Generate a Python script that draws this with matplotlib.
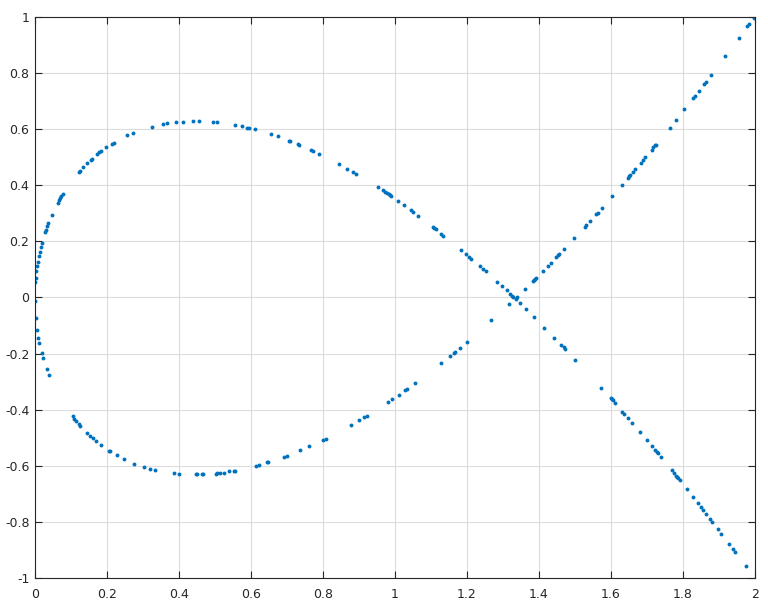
import matplotlib.pyplot as plt
from matplotlib.ticker import FuncFormatter, MultipleLocator

# points, upper arc + falling line
x_upper = [0.001, 0.002, 0.004, 0.006, 0.007, 0.011, 0.014, 0.017, 0.019, 0.029, 0.031, 0.033, 0.037, 0.046,
           0.063, 0.067, 0.069, 0.072, 0.077, 0.122, 0.125, 0.133, 0.145, 0.155, 0.158, 0.173, 0.179, 0.184,
           0.197, 0.213, 0.219, 0.256, 0.271, 0.324, 0.355, 0.368, 0.391, 0.410, 0.440, 0.455, 0.494, 0.506,
           0.555, 0.576, 0.588, 0.595, 0.611, 0.656, 0.675, 0.706, 0.707, 0.730, 0.733, 0.768, 0.771, 0.789,
           0.844, 0.867, 0.884, 0.892, 0.952, 0.966, 0.973, 0.978, 0.982, 0.986, 0.990, 1.009, 1.026, 1.044,
           1.051, 1.065, 1.105, 1.108, 1.115, 1.129, 1.134, 1.184, 1.196, 1.206, 1.212, 1.237, 1.244, 1.252,
           1.284, 1.297, 1.310, 1.319, 1.325, 1.328, 1.335, 1.346, 1.364, 1.386, 1.415, 1.443, 1.461, 1.469,
           1.472, 1.501, 1.573, 1.599, 1.602, 1.606, 1.612, 1.631, 1.636, 1.647, 1.658, 1.680, 1.699, 1.714,
           1.722, 1.727, 1.730, 1.739, 1.769, 1.775, 1.781, 1.784, 1.787, 1.791, 1.810, 1.827, 1.841, 1.849,
           1.856, 1.864, 1.874, 1.881, 1.896, 1.906, 1.928, 1.938, 1.945, 1.974]
y_upper = [0.054, 0.068, 0.094, 0.112, 0.125, 0.147, 0.162, 0.180, 0.194, 0.233, 0.241, 0.256, 0.266, 0.294,
           0.338, 0.349, 0.356, 0.363, 0.369, 0.449, 0.451, 0.464, 0.480, 0.490, 0.495, 0.512, 0.519, 0.522,
           0.536, 0.547, 0.552, 0.578, 0.586, 0.609, 0.618, 0.621, 0.625, 0.627, 0.628, 0.628, 0.625, 0.624,
           0.614, 0.611, 0.606, 0.603, 0.599, 0.582, 0.574, 0.559, 0.558, 0.546, 0.544, 0.525, 0.523, 0.512,
           0.476, 0.459, 0.446, 0.440, 0.393, 0.382, 0.376, 0.373, 0.368, 0.364, 0.361, 0.344, 0.328, 0.313,
           0.305, 0.292, 0.252, 0.249, 0.243, 0.228, 0.221, 0.169, 0.156, 0.144, 0.139, 0.112, 0.103, 0.093,
           0.056, 0.042, 0.025, 0.011, 0.006, 0.002, -0.006, -0.020, -0.042, -0.070, -0.107, -0.143, -0.169, -0.178,
           -0.183, -0.223, -0.321, -0.358, -0.362, -0.367, -0.377, -0.408, -0.414, -0.431, -0.446, -0.478, -0.508, -0.531,
           -0.543, -0.550, -0.555, -0.569, -0.616, -0.626, -0.636, -0.641, -0.645, -0.652, -0.683, -0.711, -0.734, -0.746,
           -0.758, -0.772, -0.788, -0.801, -0.824, -0.842, -0.878, -0.897, -0.909, -0.957]

# lower arc + rising line
x_lower = [0.000, 0.002, 0.006, 0.009, 0.012, 0.019, 0.023, 0.033, 0.040, 0.105, 0.109, 0.113, 0.122, 0.126,
           0.145, 0.153, 0.161, 0.170, 0.184, 0.206, 0.209, 0.228, 0.247, 0.275, 0.303, 0.319, 0.333, 0.386,
           0.401, 0.448, 0.451, 0.463, 0.468, 0.502, 0.506, 0.514, 0.526, 0.540, 0.552, 0.556, 0.613, 0.622,
           0.644, 0.648, 0.692, 0.699, 0.737, 0.762, 0.801, 0.808, 0.878, 0.901, 0.913, 0.921, 0.981, 0.993,
           1.010, 1.029, 1.032, 1.056, 1.127, 1.153, 1.163, 1.166, 1.181, 1.200, 1.268, 1.317, 1.339, 1.361,
           1.382, 1.386, 1.388, 1.393, 1.411, 1.424, 1.432, 1.446, 1.454, 1.456, 1.470, 1.497, 1.527, 1.531,
           1.542, 1.559, 1.563, 1.575, 1.603, 1.631, 1.647, 1.650, 1.654, 1.660, 1.668, 1.682, 1.690, 1.695,
           1.713, 1.718, 1.722, 1.725, 1.763, 1.781, 1.804, 1.829, 1.834, 1.844, 1.859, 1.865, 1.878, 1.918,
           1.955, 1.979, 1.984, 1.997]
y_lower = [-0.013, -0.072, -0.116, -0.146, -0.161, -0.198, -0.216, -0.256, -0.278, -0.423, -0.432, -0.439, -0.452, -0.458,
           -0.484, -0.492, -0.501, -0.511, -0.526, -0.546, -0.549, -0.562, -0.575, -0.592, -0.605, -0.611, -0.616, -0.626,
           -0.628, -0.631, -0.631, -0.630, -0.630, -0.628, -0.626, -0.625, -0.624, -0.620, -0.618, -0.617, -0.600, -0.597,
           -0.588, -0.587, -0.568, -0.565, -0.544, -0.530, -0.507, -0.503, -0.454, -0.437, -0.427, -0.421, -0.372, -0.361,
           -0.346, -0.329, -0.326, -0.304, -0.232, -0.208, -0.198, -0.195, -0.180, -0.158, -0.081, -0.023, 0.002, 0.031,
           0.058, 0.063, 0.065, 0.070, 0.095, 0.113, 0.124, 0.143, 0.152, 0.155, 0.173, 0.211, 0.251, 0.257,
           0.273, 0.298, 0.302, 0.320, 0.361, 0.402, 0.426, 0.432, 0.436, 0.446, 0.458, 0.480, 0.490, 0.500,
           0.526, 0.536, 0.543, 0.545, 0.606, 0.633, 0.671, 0.711, 0.719, 0.737, 0.762, 0.770, 0.793, 0.861,
           0.924, 0.967, 0.975, 0.996]

plt.rcParams['axes.unicode_minus'] = False
plt.rcParams['font.family'] = 'DejaVu Sans'

fig = plt.figure(figsize=(7.68, 6.04), dpi=100)
ax = fig.add_axes([35/768, 26/604, 720/768, 561/604])

blue = '#0072BD'
ax.plot(x_upper, y_upper, 'o', color=blue, markersize=2.8, markeredgewidth=0)
ax.plot(x_lower, y_lower, 'o', color=blue, markersize=2.8, markeredgewidth=0)

ax.set_xlim(0, 2)
ax.set_ylim(-1, 1)
ax.xaxis.set_major_locator(MultipleLocator(0.2))
ax.yaxis.set_major_locator(MultipleLocator(0.2))
fmt = FuncFormatter(lambda v, p: '%g' % round(v, 6))
ax.xaxis.set_major_formatter(fmt)
ax.yaxis.set_major_formatter(fmt)

ax.grid(True, color='#dcdcdc', linewidth=0.8)
ax.set_axisbelow(True)
ax.tick_params(direction='in', length=5, width=0.8, colors='#262626', labelsize=9,
               top=True, right=True)
ax.tick_params(axis='x', pad=7)
ax.tick_params(axis='y', pad=4)
for s in ax.spines.values():
    s.set_color('#262626')
    s.set_linewidth(0.8)

fig.savefig('out.png', dpi=100)
